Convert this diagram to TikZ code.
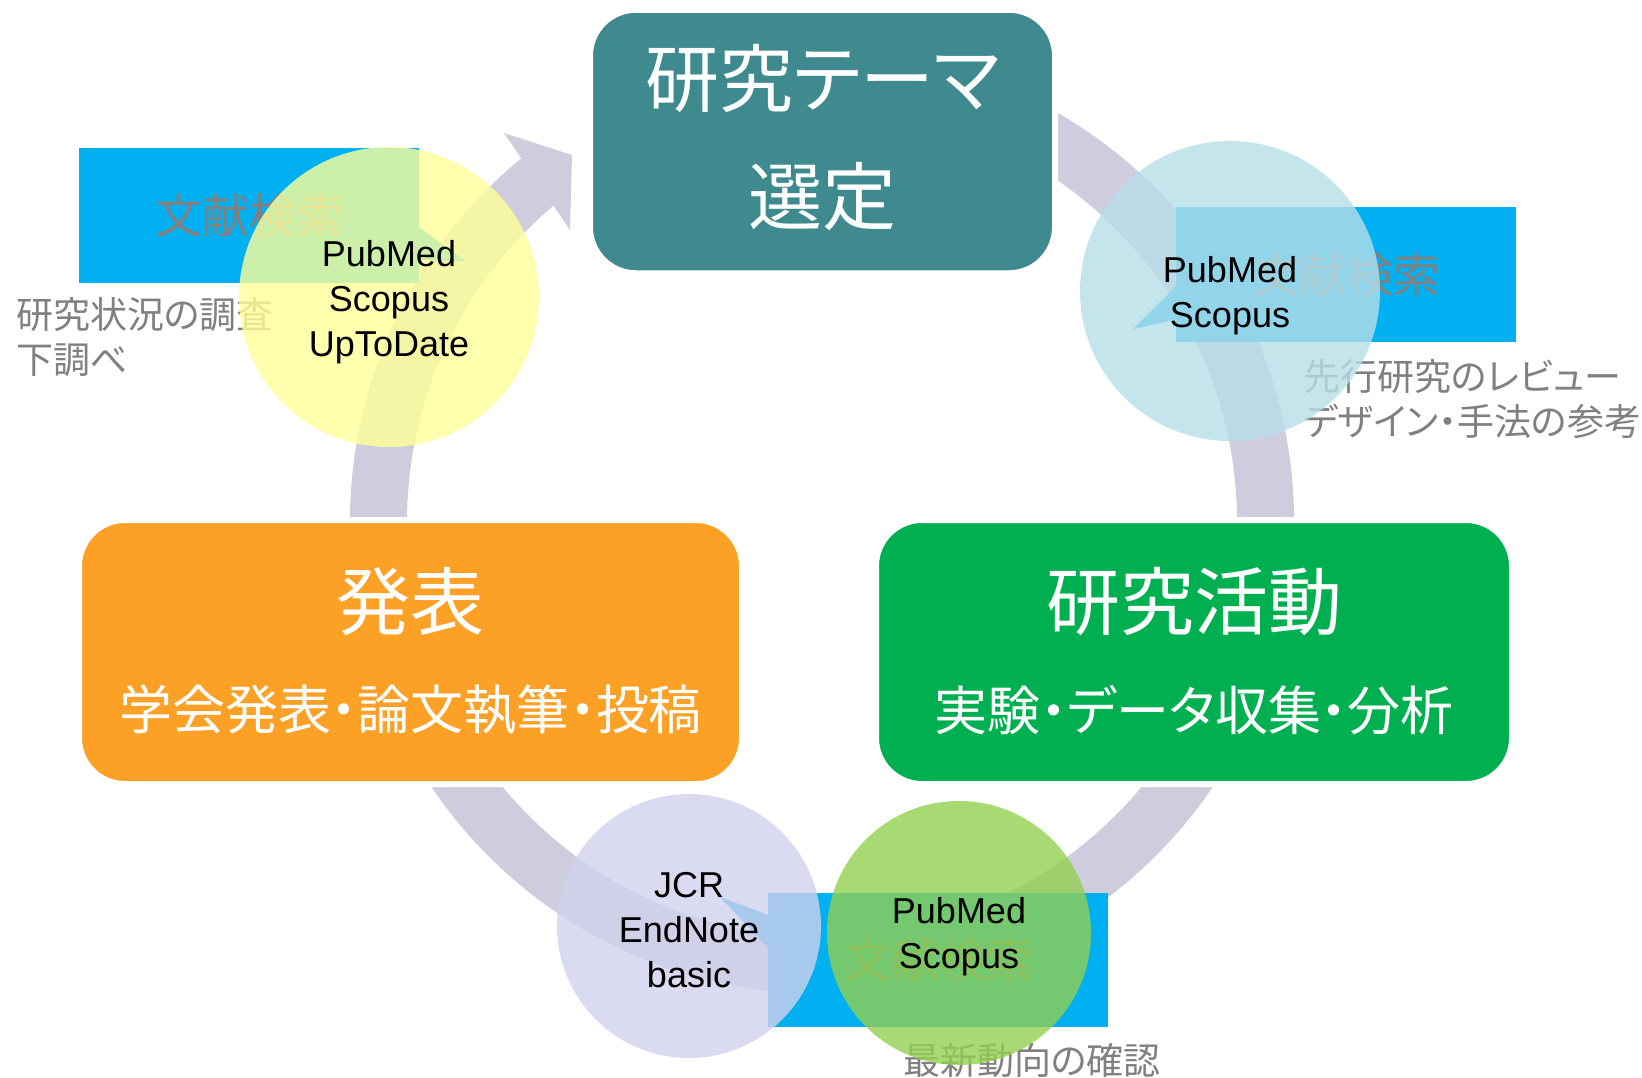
\documentclass[tikz,border=0pt]{standalone}
\usepackage{fontspec}
\setmainfont{Noto Sans CJK JP}[RawFeature=+palt]
\newfontfamily\latinfont{Liberation Sans}
\usetikzlibrary{calc}
\definecolor{ringc}{RGB}{205,205,222}
\definecolor{tealc}{RGB}{62,138,142}
\definecolor{orangec}{RGB}{252,160,38}
\definecolor{greenc}{RGB}{0,176,80}
\definecolor{bluec}{RGB}{0,176,240}
\definecolor{grayc}{RGB}{128,128,128}
\definecolor{yellowc}{RGB}{255,255,153}
\definecolor{aquac}{RGB}{183,222,232}
\definecolor{lavc}{RGB}{209,209,236}
\definecolor{limec}{RGB}{146,208,80}
\begin{document}
\begin{tikzpicture}[x=1pt,y=-1pt,
  box/.style={draw=white, line width=6pt, rounded corners=46pt, inner sep=0pt, minimum height=264pt},
  bigtxt/.style={text=white, font=\fontsize{74}{86}\selectfont, inner sep=0pt},
  subtxt/.style={text=white, font=\fontsize{53}{62}\selectfont, inner sep=0pt},
  callout/.style={fill=bluec, inner sep=0pt, minimum width=340pt, minimum height=135pt, text=grayc, font=\fontsize{47}{55}\selectfont},
  wedge/.style={fill=bluec},
  desc/.style={text=grayc, font=\fontsize{37}{45}\selectfont, align=left, inner sep=0pt, anchor=west},
  tool/.style={circle, fill opacity=0.8, inner sep=0pt},
  tooltxt/.style={inner sep=0pt, align=center, text=black, font=\latinfont\fontsize{36}{45}\selectfont},
]
\useasboundingbox (0,0) rectangle (1642,1077);

% cycle arrow
\coordinate (rc) at (822,522);
\fill[ringc] ($(rc)+(-80:472)$) arc[start angle=-80, end angle=230.5, radius=472]
  -- ($(rc)+(230.5:415)$) arc[start angle=230.5, end angle=-80, radius=415] -- cycle;
\coordinate (hw1) at (504,133);
\coordinate (htip) at (572,155);
\coordinate (hw2) at (570,230);
\fill[ringc] (hw1) -- (htip) -- (hw2) -- cycle;

% main boxes
\node[box, fill=tealc, minimum width=465pt, minimum height=263.5pt] (theme) at (822.5,141.5) {};
\node[box, fill=orangec, minimum width=663pt] (present) at (410.5,652) {};
\node[box, fill=greenc, minimum width=636pt] (research) at (1194,652) {};

\node[bigtxt] (themeA) at ($(theme.center)+(0,-63.5)$) {研究テーマ};
\node[bigtxt] (themeB) at ($(theme.center)+(0,55.5)$) {選定};
\node[bigtxt] (presentA) at ($(present.center)+(0,-50)$) {発表};
\node[subtxt] (presentB) at ($(present.center)+(0,58)$) {学会発表・論文執筆・投稿};
\node[bigtxt] (researchA) at ($(research.center)+(0,-50)$) {研究活動};
\node[subtxt] (researchB) at ($(research.center)+(0,58)$) {実験・データ収集・分析};

% callouts
\node[callout] (cb1) at (249,215.5) {文献検索};
\coordinate (tip1) at (465,261);
\fill[wedge] ($(cb1.north east)+(-1,78.75)$) -- (tip1) -- ($(cb1.north east)+(-1,112.5)$) -- cycle;

\node[callout] (cb2) at (1346,274.5) {文献検索};
\coordinate (tip2) at (1133,329);
\fill[wedge] ($(cb2.north west)+(1,78.75)$) -- (tip2) -- ($(cb2.north west)+(1,112.5)$) -- cycle;

\node[callout, minimum height=134pt] (cb3) at (938,960) {文献検索};
\coordinate (tip3) at (720,897);
\fill[wedge] ($(cb3.north west)+(1,22.3)$) -- (tip3) -- ($(cb3.north west)+(1,55.8)$) -- cycle;

% descriptions
\node[desc] (d1) at (16,337.5) {研究状況の調査\\下調べ};
\node[desc] (d2) at (1303,399) {先行研究のレビュー\\デザイン・手法の参考};
\node[desc] (d3) at (903,1060) {最新動向の確認};

% tool circles
\node[tool, fill=yellowc, minimum size=300pt] (c1) at (389,297) {};
\node[tool, fill=aquac, minimum size=300pt] (c2) at (1230,291) {};
\node[tool, fill=lavc, minimum size=264pt] (c3) at (689,926) {};
\node[tool, fill=limec, minimum size=264pt] (c4) at (959,933) {};
\node[tooltxt] (c1t) at ($(c1.center)+(0,5)$) {PubMed\\Scopus\\UpToDate};
\node[tooltxt] (c2t) at ($(c2.center)+(0,5)$) {PubMed\\Scopus};
\node[tooltxt] (c3t) at ($(c3.center)+(0,4)$) {JCR\\EndNote\\basic};
\node[tooltxt] (c4t) at ($(c4.center)+(0,4)$) {PubMed\\Scopus};
\end{tikzpicture}
\end{document}
